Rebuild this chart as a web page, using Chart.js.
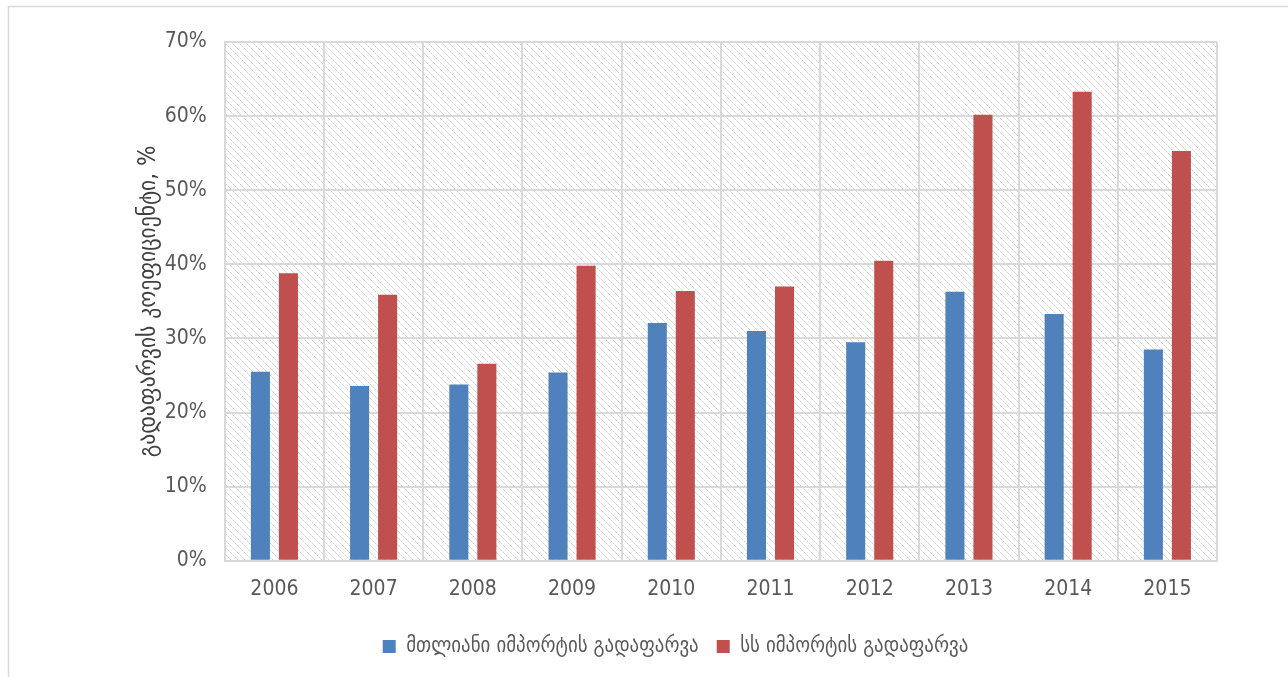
<!DOCTYPE html>
<html>
<head>
<meta charset="utf-8">
<script src="https://cdn.jsdelivr.net/npm/chart.js@4"></script>
<style>
  body { margin: 0; background: #fff; }
  #wrap { width: 1288px; height: 677px; }
</style>
</head>
<body>
<div id="wrap"><canvas id="myChart" width="1288" height="677"></canvas></div>
<script>
const years = ["2006", "2007", "2008", "2009", "2010", "2011", "2012", "2013", "2014", "2015"];
const total = [25.5, 23.6, 23.8, 25.4, 32.1, 31.0, 29.5, 36.3, 33.3, 28.5];
const dcfta = [38.8, 35.9, 26.6, 39.8, 36.4, 37.0, 40.5, 60.2, 63.3, 55.3];
const seriesNames = ["მთლიანი იმპორტის გადაფარვა", "სს იმპორტის გადაფარვა"];
const yTitle = "გადაფარვის კოეფიციენტი, %";

const georgianFont = "'Liberation Sans Narrow', 'DejaVu Sans Condensed', 'DejaVu Sans', sans-serif";

// diagonal hatch for plot background
function makeHatch() {
  const c = document.createElement('canvas');
  c.width = 7; c.height = 7;
  const g = c.getContext('2d');
  for (let i = 0; i < 7; i++) {
    g.fillStyle = i % 2 ? '#e8e8e8' : '#d4d4d4';
    g.fillRect(i, i, 1, 1);
  }
  return g.createPattern(c, 'repeat');
}

const bgPlugin = {
  id: 'bg',
  beforeDraw(chart) {
    const ctx = chart.ctx;
    const a = chart.chartArea;
    ctx.save();
    ctx.fillStyle = makeHatch();
    ctx.fillRect(a.left, a.top, a.right - a.left, a.bottom - a.top);
    ctx.restore();
  },
  afterDraw(chart) {
    const ctx = chart.ctx;
    ctx.save();
    ctx.strokeStyle = '#d9d9d9';
    ctx.lineWidth = 1.5;
    ctx.strokeRect(8.5, 6.5, 1300, 700);
    ctx.restore();
  }
};

const ctx = document.getElementById('myChart');

new Chart(ctx, {
  type: 'bar',
  data: {
    labels: years,
    datasets: [
      {
        label: seriesNames[0],
        data: total,
        backgroundColor: "#4F81BD",
        categoryPercentage: 0.565,
        barPercentage: 0.68,
      },
      {
        label: seriesNames[1],
        data: dcfta,
        backgroundColor: "#C0504D",
        categoryPercentage: 0.565,
        barPercentage: 0.68,
      },
    ]
  },
  options: {
    responsive: false,
    animation: false,
    layout: { padding: { top: 42, right: 71, left: 134, bottom: 10 } },
    scales: {
      y: {
        min: 0,
        max: 70,
        afterFit: s => { s.width -= 18; },
        ticks: {
          stepSize: 10,
          callback: v => v + '%',
          color: '#595959',
          font: { family: georgianFont, size: 21 },
          padding: 18,
        },
        grid: { color: '#d9d9d9', lineWidth: 2, drawTicks: false },
        border: { color: '#d9d9d9', width: 2 },
        title: {
          display: true,
          text: yTitle,
          color: '#404040',
          font: { family: georgianFont, size: 24 },
          padding: { top: 0, bottom: 2 },
        }
      },
      x: {
        ticks: {
          color: '#595959',
          font: { family: georgianFont, size: 21 },
          padding: 16,
        },
        grid: { color: '#d9d9d9', lineWidth: 2, drawTicks: false, offset: true },
        border: { color: '#d9d9d9', width: 2 },
      }
    },
    plugins: {
      legend: {
        position: 'bottom',
        labels: {
          color: '#595959',
          font: { family: georgianFont, size: 21 },
          boxWidth: 13,
          boxHeight: 13,
          padding: 18,
        }
      },
      tooltip: { enabled: false }
    }
  },
  plugins: [bgPlugin]
});
</script>
</body>
</html>
